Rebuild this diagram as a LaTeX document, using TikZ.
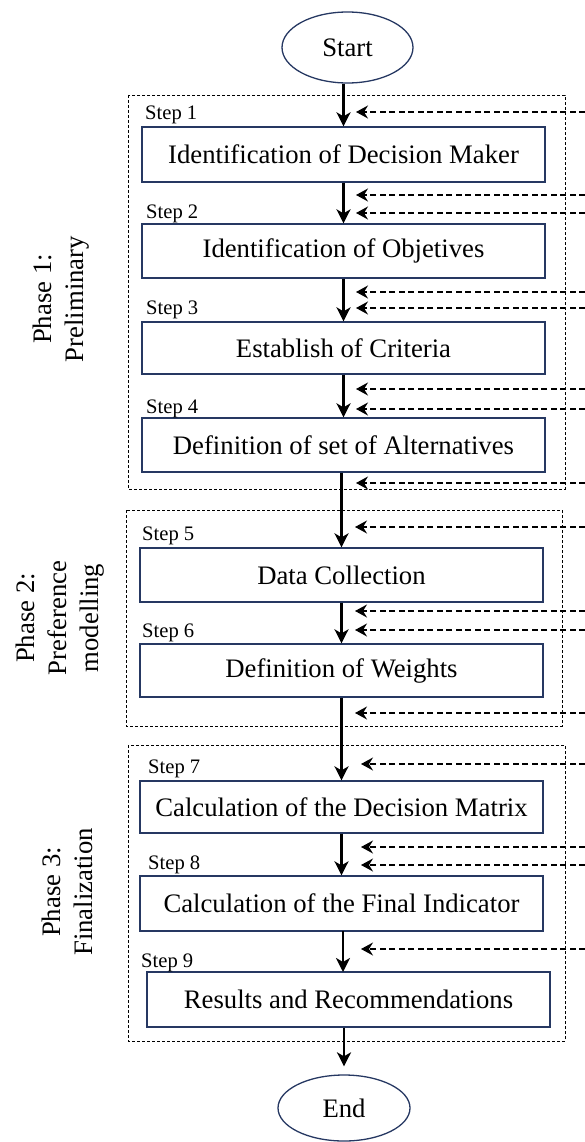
\documentclass[tikz,border=0pt]{standalone}
\usepackage{fontspec}
\setmainfont{Liberation Serif}
\usetikzlibrary{shapes.geometric,arrows.meta}
\definecolor{boxblue}{RGB}{38,56,98}
\begin{document}
\begin{tikzpicture}[x=1pt,y=-1pt,
  stepbox/.style={draw=boxblue,line width=1.3pt,minimum width=403pt,minimum height=54pt,inner sep=0pt,font=\fontsize{26.7}{32}\selectfont},
  term/.style={ellipse,draw=boxblue,line width=1.3pt,inner sep=0pt,font=\fontsize{26.7}{32}\selectfont},
  steplabel/.style={anchor=base west,inner sep=0pt,font=\fontsize{20.6}{24}\selectfont},
  phasebox/.style={draw,line width=0.9pt,dash pattern=on 3pt off 2pt},
  phaselabel/.style={rotate=90,align=center,inner sep=0pt,font=\fontsize{26.7}{32}\selectfont},
  flow/.style={line width=2.6pt,-{Stealth[length=14pt,width=14pt,inset=4pt]}},
  feedback/.style={line width=1.2pt,dash pattern=on 6pt off 3.5pt,-{Stealth[length=12pt,width=13pt,inset=4pt]}}
]
\useasboundingbox (0,0) rectangle (585,1142);

% phase frames
\draw[phasebox] (128,95) rectangle (565,489);
\draw[phasebox] (126,510) rectangle (562,726);
\draw[phasebox] (128,745) rectangle (565,1041);

% phase labels
\node[phaselabel] (ph1) at (61,299) {Phase 1:\\Preliminary};
\node[phaselabel] (ph2) at (60.5,618) {Phase 2:\\Preference\\modelling};
\node[phaselabel] (ph3) at (67.5,892) {Phase 3:\\Finalization};

% terminals
\node[term,minimum width=131pt,minimum height=71pt] (start) at (347.5,47.5) {Start};
\node[term,minimum width=132pt,minimum height=66pt] (end) at (344,1108) {End};

% steps
\node[stepbox,minimum height=55pt] (b1) at (343.5,154.5) {Identification of Decision Maker};
\node[stepbox] (b2) at (343.5,251) {Identification of Objetives};
\node[stepbox,minimum height=52pt] (b3) at (343.5,348) {Establish of Criteria};
\node[stepbox] (b4) at (343.5,445) {Definition of set of Alternatives};
\node[stepbox] (b5) at (341.5,575) {Data Collection};
\node[stepbox,minimum height=53pt] (b6) at (341.5,670.5) {Definition of Weights};
\node[stepbox,minimum height=52pt] (b7) at (341.5,807) {Calculation of the Decision Matrix};
\node[stepbox,minimum height=55pt] (b8) at (341.5,903.5) {Calculation of the Final Indicator};
\node[stepbox,minimum height=55pt] (b9) at (348.5,999.5) {Results and Recommendations};

% step labels
\node[steplabel] (s1) at (145,120) {Step 1};
\node[steplabel] (s2) at (146,218) {Step 2};
\node[steplabel] (s3) at (146,314) {Step 3};
\node[steplabel] (s4) at (146,413) {Step 4};
\node[steplabel] (s5) at (142,540) {Step 5};
\node[steplabel] (s6) at (142,637) {Step 6};
\node[steplabel] (s7) at (148,773) {Step 7};
\node[steplabel] (s8) at (148,869) {Step 8};
\node[steplabel] (s9) at (141,967) {Step 9};

% main flow
\coordinate (c89a) at (343,931);
\coordinate (c89b) at (343,972);
\draw[flow] (start.south -| b1.north) -- (b1.north);
\draw[flow] (b1.south) -- (b2.north);
\draw[flow] (b2.south) -- (b3.north);
\draw[flow] (b3.south) -- (b4.north);
\draw[flow] (b4.south -| b5.north) -- (b5.north);
\draw[flow] (b5.south) -- (b6.north);
\draw[flow] (b6.south) -- (b7.north);
\draw[flow] (b7.south) -- (b8.north);
\draw[flow] (c89a) -- (c89b);
\draw[flow,shorten >=8pt] (b9.south -| end.north) -- (end.north);

% feedback arrows
\foreach \yy/\xx [count=\i] in {112/356,195/356,213/356,292/356,308/356,389/356,409/356,483/356,527/355,611/355,630/355,713/355,764/361,847/361,865/361,949/361}{
  \coordinate (fs\i) at (585,\yy);
  \coordinate (fe\i) at (\xx,\yy);
  \draw[feedback] (fs\i) -- (fe\i);
}
\end{tikzpicture}
\end{document}
